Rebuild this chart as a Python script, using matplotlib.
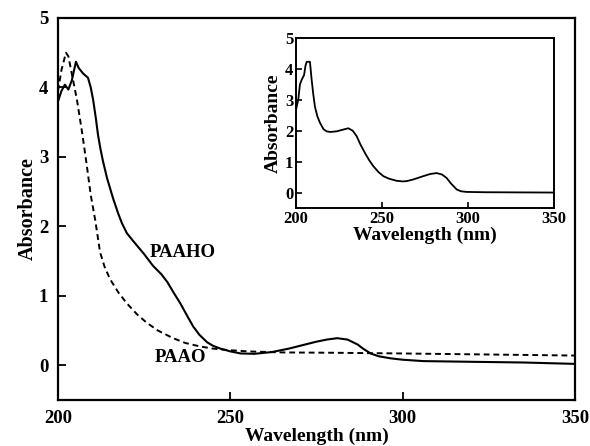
import matplotlib
matplotlib.use("Agg")
import matplotlib.pyplot as plt

plt.rcParams['font.family'] = ['Liberation Serif', 'DejaVu Serif']
plt.rcParams['font.weight'] = 'bold'

# PAAHO (solid)
paaho_x = [200, 201, 202, 203, 204, 205.2, 206, 207.3, 208.7, 209.5, 210.2, 211, 211.6, 212.3, 213, 214.2,
           216, 217.5, 218.6, 220, 221.8, 225, 227.6, 230, 231.7, 233.5, 235.5, 237.5, 239.2, 241, 243.3, 245,
           247.1, 250, 253, 257, 262, 267, 271, 275, 278, 281, 284, 286.9, 288.5, 290.7, 293,
           296.5, 300, 306, 320, 335, 350]
paaho_y = [3.80, 3.95, 4.04, 3.97, 4.10, 4.37, 4.28, 4.20, 4.14, 4.00, 3.82, 3.55, 3.32, 3.12, 2.95, 2.70,
           2.40, 2.18, 2.04, 1.90, 1.79, 1.60, 1.43, 1.31, 1.20, 1.05, 0.89, 0.71, 0.56, 0.44, 0.33, 0.28,
           0.24, 0.20, 0.17, 0.165, 0.19, 0.24, 0.29, 0.34, 0.37, 0.39, 0.37, 0.30, 0.24, 0.17, 0.13,
           0.10, 0.08, 0.06, 0.05, 0.04, 0.02]

# PAAO (dashed)
paao_x = [200, 201, 202.3, 203, 204, 205.5, 207, 208.4, 209.5, 210.8, 212.2, 213.5, 215.1, 217.5,
          220, 223, 225.8, 229, 233.4, 237, 241.3, 245, 249, 255, 265, 280, 300, 325, 350]
paao_y = [3.95, 4.25, 4.50, 4.45, 4.20, 3.82, 3.35, 2.86, 2.45, 2.09, 1.63, 1.42, 1.24, 1.05,
          0.89, 0.73, 0.61, 0.50, 0.39, 0.32, 0.27, 0.24, 0.22, 0.20, 0.185, 0.18, 0.17, 0.155, 0.14]

# Inset curve
ins_x = [200, 201.3, 202.3, 203.3, 204.7, 205.5, 206.2, 208.1, 209.1, 210, 211, 212.5, 214, 216,
         217.8, 220, 223.6, 227, 230.4, 233, 235.3, 237.5, 240.1, 242.5, 245, 248, 250.8, 254,
         258.5, 262, 264.4, 268, 274, 278, 281.8, 285, 287.6, 290, 293.4, 296, 299.2, 310, 350]
ins_y = [2.68, 3.00, 3.50, 3.65, 3.80, 4.10, 4.23, 4.23, 3.65, 3.20, 2.78, 2.45, 2.25, 2.05,
         1.98, 1.96, 1.98, 2.03, 2.08, 2.00, 1.82, 1.55, 1.28, 1.05, 0.85, 0.66, 0.53, 0.45,
         0.38, 0.36, 0.37, 0.42, 0.53, 0.60, 0.63, 0.58, 0.47, 0.30, 0.10, 0.04, 0.02, 0.01, 0.0]

x_ticks = [200, 250, 300, 350]
y_ticks = [0, 1, 2, 3, 4, 5]

fig = plt.figure(figsize=(5.9, 4.46), dpi=100)
ax = fig.add_axes([58/590, 46/446, 517/590, 382/446])
ax.plot(paaho_x, paaho_y, color='black', lw=1.5)
ax.plot(paao_x, paao_y, color='black', lw=1.4, linestyle=(0, (3, 2)))
ax.set_xlim(200, 350)
ax.set_ylim(-0.5, 5)
ax.set_xticks(x_ticks)
ax.set_yticks(y_ticks)
ax.tick_params(direction='in', length=6, width=1.3, labelsize=13.5, pad=7, top=False, right=False)
for lab in ax.get_xticklabels() + ax.get_yticklabels():
    lab.set_fontweight('bold')
for s in ax.spines.values():
    s.set_linewidth(1.6)
ax.set_xlabel('Wavelength (nm)', fontsize=14, fontweight='bold', labelpad=0.5)
ax.set_ylabel('Absorbance', fontsize=14.5, fontweight='bold', labelpad=1)
ax.text(236.3, 1.63, 'PAAHO', fontsize=13.5, fontweight='bold', ha='center', va='center')
ax.text(235.5, 0.115, 'PAAO', fontsize=13.5, fontweight='bold', ha='center', va='center')

ins = fig.add_axes([296/590, 238/446, 258/590, 170/446])
ins.plot(ins_x, ins_y, color='black', lw=1.3)
ins.set_xlim(200, 350)
ins.set_ylim(-0.5, 5)
ins.set_xticks(x_ticks)
ins.set_yticks(y_ticks)
ins.tick_params(direction='in', length=4, width=1.2, labelsize=12, pad=2)
for lab in ins.get_xticklabels() + ins.get_yticklabels():
    lab.set_fontweight('bold')
for s in ins.spines.values():
    s.set_linewidth(1.4)
ins.set_xlabel('Wavelength (nm)', fontsize=14, fontweight='bold', labelpad=0)
ins.set_ylabel('Absorbance', fontsize=14, fontweight='bold', labelpad=2)

fig.savefig('out.png', dpi=100)
